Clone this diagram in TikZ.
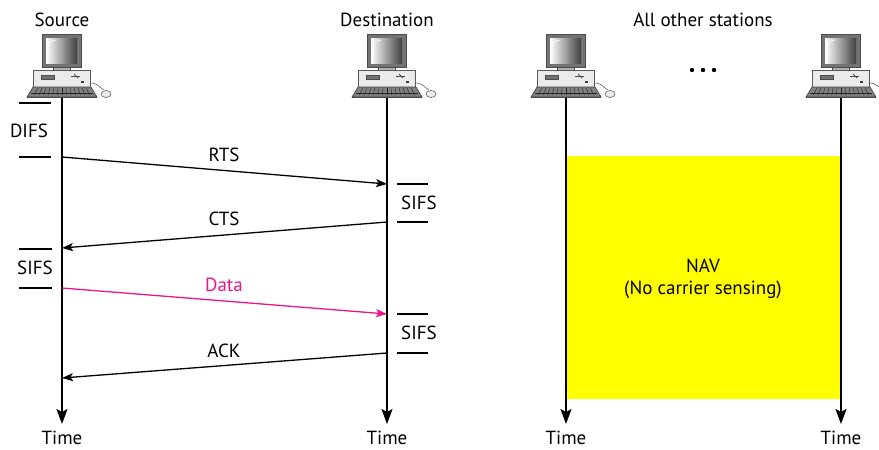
\documentclass[tikz,border=0pt]{standalone}
\usepackage{fontspec}
\setmainfont{PT Sans}
\usetikzlibrary{arrows.meta}
\definecolor{datacol}{RGB}{236,20,140}
\definecolor{navyel}{RGB}{255,255,0}
\tikzset{
  lbl/.style={font=\fontsize{19}{22}\selectfont, inner sep=0pt, text=black},
  tline/.style={line width=1.8pt, -{Stealth[length=15pt,width=11pt,inset=3pt]}},
  msg/.style={line width=1.3pt, -{Stealth[length=11pt,width=8pt,inset=2.5pt]}},
  tick/.style={line width=1.2pt},
  pics/computer/.style={code={
    % monitor
    \draw[fill=black!55, draw=black!70, line width=0.6pt] (-20,-64) rectangle (19,-31);
    \shade[left color=white, right color=black!75] (-16,-60) rectangle (15,-35);
    \draw[white, line width=0.6pt] (-14,-42) .. controls (-14,-56) .. (-6,-58);
    % stand
    \draw[fill=black!30, draw=black!70, line width=0.5pt] (-9,-31) rectangle (8,-28);
    % base
    \draw[fill=black!8, draw=black!65, line width=0.6pt] (-29,-28) rectangle (28,-11);
    \draw[fill=black!55, draw=black!70, line width=0.4pt] (-21,-23) rectangle (-8,-19);
    \draw[black!70, line width=1pt] (9,-22) -- (18,-22);
    \draw[black!70, line width=0.8pt] (12,-24) -- (16,-20);
    \fill[black!75] (19,-17) rectangle (22,-15);
    % keyboard
    \draw[fill=black!50, draw=black!75, line width=0.6pt] (-29,-11) -- (29,-11) -- (35,-1) -- (-35,-1) -- cycle;
    \foreach \k in {-24,-20,...,24} \draw[black!85, line width=0.4pt] (\k,-10) -- (\k*1.15,-3);
    \draw[black!85, line width=0.4pt] (-31,-5) -- (31,-5);
    \fill[black!70] (-35,-1) rectangle (35,0);
    % mouse
    \draw[black!70, line width=0.5pt] (28,-15) .. controls (36,-15) and (38,-10) .. (42,-8);
    \draw[fill=black!8, draw=black!70, line width=0.5pt] (44,-4) ellipse (5pt and 3.5pt);
  }}
}
\begin{document}
\begin{tikzpicture}[x=1pt,y=-1pt]
\useasboundingbox (0,0) rectangle (879,450);
% station tops (bottom centre of keyboard)
\coordinate (srcT) at (62,98);
\coordinate (dstT) at (387,98);
\coordinate (o1T) at (566,98);
\coordinate (o2T) at (841,98);
\coordinate (srcB) at (62,424);
\coordinate (dstB) at (387,424);
\coordinate (o1B) at (566,424);
\coordinate (o2B) at (841,424);
% NAV area
\fill[navyel] (566,156) rectangle (841,399);
\node[lbl] (nav) at (703,266) {NAV};
\node[lbl] (nocs) at (703,290) {(No carrier sensing)};
% computers
\pic at (srcT) {computer};
\pic at (dstT) {computer};
\pic at (o1T) {computer};
\pic at (o2T) {computer};
% titles
\node[lbl] (srcname) at (62,20) {Source};
\node[lbl] (dstname) at (387,20) {Destination};
\node[lbl] (othname) at (703,20) {All other stations};
\foreach \dx in {692,703,714} \fill (\dx,70) circle (2.2pt);
% timelines
\draw[tline] (srcT) -- (srcB);
\draw[tline] (dstT) -- (dstB);
\draw[tline] (o1T) -- (o1B);
\draw[tline] (o2T) -- (o2B);
\node[lbl] (t1) at (62,438) {Time};
\node[lbl] (t2) at (387,438) {Time};
\node[lbl] (t3) at (566,438) {Time};
\node[lbl] (t4) at (841,438) {Time};
% event points
\coordinate (s1) at (62,157);
\coordinate (d1) at (387,184);
\coordinate (d2) at (387,222);
\coordinate (s2) at (62,248);
\coordinate (s3) at (62,288);
\coordinate (d3) at (387,314);
\coordinate (d4) at (387,353);
\coordinate (s4) at (62,378);
% interframe spaces
\draw[tick] (19,103) -- (51,103);
\draw[tick] (19,157) -- (51,157);
\node[lbl] (difs) at (29,131) {DIFS};
\draw[tick] (397,184) -- (428,184);
\draw[tick] (397,222) -- (428,222);
\node[lbl] (sifs1) at (419,203) {SIFS};
\draw[tick] (19,249) -- (52,249);
\draw[tick] (19,288) -- (52,288);
\node[lbl] (sifs2) at (35,268) {SIFS};
\draw[tick] (397,314) -- (428,314);
\draw[tick] (397,353) -- (428,353);
\node[lbl] (sifs3) at (419,333) {SIFS};
% messages
\draw[msg] (s1) -- (d1);
\node[lbl] (rts) at (224,155) {RTS};
\draw[msg] (d2) -- (s2);
\node[lbl] (cts) at (224,219) {CTS};
\draw[msg, datacol] (s3) -- (d3);
\node[lbl, text=datacol] (data) at (224,285) {Data};
\draw[msg] (d4) -- (s4);
\node[lbl] (ack) at (224,351) {ACK};
\end{tikzpicture}
\end{document}
